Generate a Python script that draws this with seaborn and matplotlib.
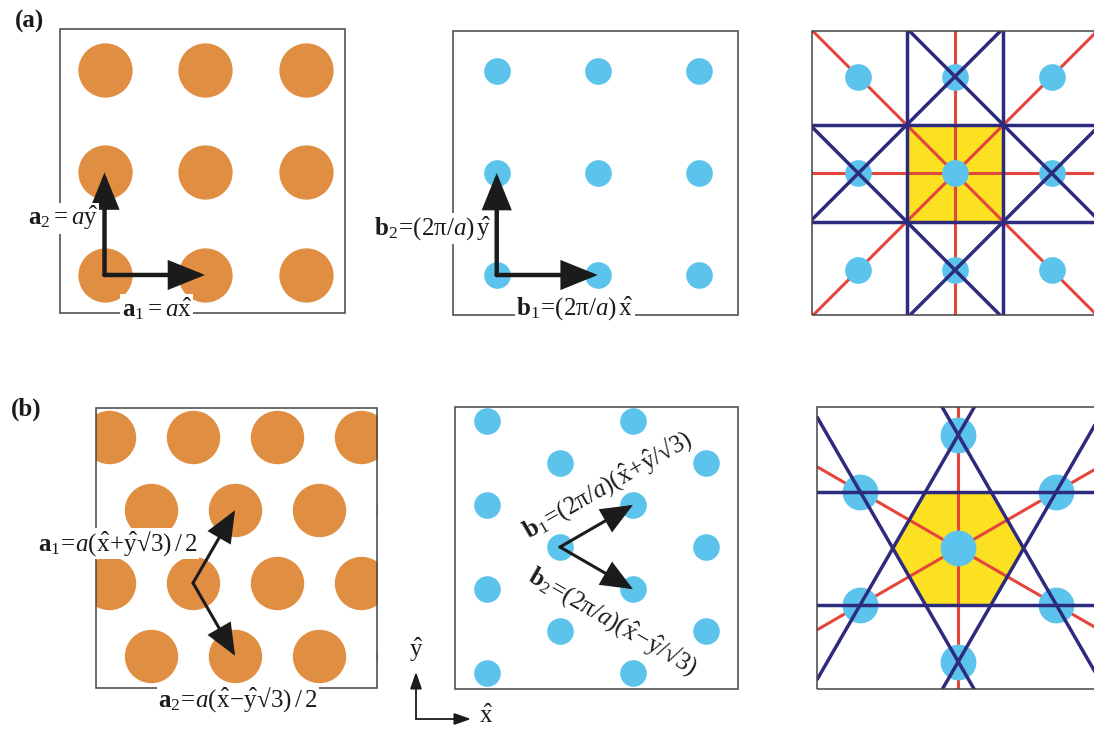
import numpy as np
import pandas as pd
import matplotlib
matplotlib.use("Agg")
import matplotlib.pyplot as plt
import seaborn as sns
from matplotlib.patches import Rectangle, Polygon

sns.set_style("white")
plt.rcParams["font.family"] = ["Liberation Serif", "DejaVu Serif"]
plt.rcParams["mathtext.fontset"] = "custom"
plt.rcParams["mathtext.rm"] = "Liberation Serif"
plt.rcParams["mathtext.it"] = "Liberation Serif:italic"
plt.rcParams["mathtext.bf"] = "Liberation Serif:bold"

# ---------------- lattice data (units of the lattice constant) ----------------
R3 = np.sqrt(3.0)
SQ_A1 = [1.0, 0.0]                 # square lattice, real space
SQ_A2 = [0.0, 1.0]
SQ_B1 = [1.0, 0.0]                 # square lattice, reciprocal (units 2pi/a)
SQ_B2 = [0.0, 1.0]
HEX_A1 = [0.5, R3 / 2]             # hexagonal lattice, real space
HEX_A2 = [0.5, -R3 / 2]
HEX_B1 = [R3 / 2, 0.5]             # hexagonal lattice, reciprocal (units of |b|)
HEX_B2 = [R3 / 2, -0.5]

SQ_INDEX = [0, 1, 2]               # rows/columns drawn in the square panels
SQ_ZONE_INDEX = [-1, 0, 1]         # reciprocal points around the zone
HEX_INDEX = list(range(-4, 5))     # hexagonal panels are clipped by their frame

SQ_NEAR = [(1, 0), (0, 1), (-1, 0), (0, -1)]       # first neighbours (square)
SQ_NEXT = [(1, 1), (-1, 1), (-1, -1), (1, -1)]     # second neighbours (square)
HEX_NEAR_COEF = [(1, 0), (0, 1), (-1, 0), (0, -1), (1, -1), (-1, 1)]  # in b1, b2

# ---------------- colours ----------------
ORANGE = "#E08E42"
CYAN = "#5BC3EC"
NAVY = "#2E2B7E"
RED = "#E5463C"
YELLOW = "#FBE122"
FRAME = "#444444"
INK = "#1b1b1b"

W, H = 1094, 729
fig = plt.figure(figsize=(W / 100, H / 100), dpi=100)


def px_axes(x0, y0, x1, y1, xlim, ylim):
    ax = fig.add_axes([x0 / W, 1 - y1 / H, (x1 - x0) / W, (y1 - y0) / H])
    ax.set_xlim(*xlim)
    ax.set_ylim(*ylim)
    ax.set_axis_off()
    ax.add_patch(Rectangle((0, 0), 1, 1, transform=ax.transAxes, fill=False,
                           ec=FRAME, lw=1.1, clip_on=False, zorder=6))
    return ax


def lattice(v1, v2, idx):
    pts = [(i * v1[0] + j * v2[0], i * v1[1] + j * v2[1]) for i in idx for j in idx]
    return pd.DataFrame(pts, columns=["x", "y"])


def dot_area(ax, r):
    pos = ax.get_position()
    x0, x1 = ax.get_xlim()
    px_per_unit = pos.width * W / (x1 - x0)
    r_pt = r * px_per_unit * 72 / 100
    return (2 * r_pt) ** 2


def draw_dots(ax, df, r, color):
    sns.scatterplot(data=df, x="x", y="y", ax=ax, s=dot_area(ax, r), color=color,
                    linewidth=0, legend=False, zorder=3)
    ax.set_xlabel("")
    ax.set_ylabel("")


def vec_arrow(ax, end, lw, hl, hw, start=(0, 0)):
    ax.annotate("", xy=end, xytext=start,
                arrowprops=dict(arrowstyle=f"-|>,head_length={hl},head_width={hw}",
                                lw=lw, color=INK, shrinkA=0, shrinkB=0,
                                mutation_scale=10, joinstyle="miter"),
                zorder=8)


def label(ax, x, y, s, boxed=True, **kw):
    opts = dict(fontsize=18, zorder=10, clip_on=False, color=INK)
    if boxed:
        opts["bbox"] = dict(fc="white", ec="none", pad=1.0)
    opts.update(kw)
    ax.text(x, y, s, **opts)


# ---------------- (a) square lattice, real space ----------------
ax = px_axes(60, 29.3, 345, 313.3, (-0.443, 2.393), (-0.374, 2.397))
draw_dots(ax, lattice(SQ_A1, SQ_A2, SQ_INDEX), 0.27, ORANGE)
vec_arrow(ax, SQ_A1, 3.2, 2.1, 0.85)
vec_arrow(ax, SQ_A2, 3.2, 2.1, 0.85)
label(ax, -0.065, 0.555, r"$\mathbf{a}_2=a\hat{\mathrm{y}}$", ha="right", va="center")
label(ax, 0.52, -0.33, r"$\mathbf{a}_1=a\hat{\mathrm{x}}$", ha="center", va="center")

# ---------------- (a) square lattice, reciprocal space ----------------
ax = px_axes(452.7, 31, 738.3, 315, (-0.436, 2.392), (-0.392, 2.392))
draw_dots(ax, lattice(SQ_B1, SQ_B2, SQ_INDEX), 0.132, CYAN)
vec_arrow(ax, SQ_B1, 3.2, 2.1, 0.85)
vec_arrow(ax, SQ_B2, 3.2, 2.1, 0.85)
label(ax, -0.05, 0.46, r"$\mathbf{b}_2\!=\!(2\mathrm{\pi}/a)\,\hat{\mathrm{y}}$",
      ha="right", va="center")
label(ax, 0.775, -0.32, r"$\mathbf{b}_1\!=\!(2\mathrm{\pi}/a)\,\hat{\mathrm{x}}$",
      ha="center", va="center")

# ---------------- (a) square lattice, Brillouin-zone construction ----------------
ax = px_axes(811.7, 31, 1100, 315, (-1.482, 1.4995), (-1.465, 1.471))
ax.add_patch(Polygon([(-0.5, -0.5), (0.5, -0.5), (0.5, 0.5), (-0.5, 0.5)],
                     closed=True, fc=YELLOW, ec="none", zorder=1))
for g in SQ_NEAR[:2] + SQ_NEXT[:2]:
    ax.axline((0, 0), g, color=RED, lw=2.2, zorder=2)
draw_dots(ax, lattice(SQ_B1, SQ_B2, SQ_ZONE_INDEX), 0.138, CYAN)
for g in SQ_NEAR + SQ_NEXT:
    mid = (g[0] / 2, g[1] / 2)
    ax.axline(mid, (mid[0] - g[1], mid[1] + g[0]), color=NAVY, lw=2.5, zorder=4)

# ---------------- (b) hexagonal lattice, real space ----------------
ax = px_axes(96, 408, 377, 688, (-1.155, 2.19), (-1.25, 2.083))
draw_dots(ax, lattice(HEX_A1, HEX_A2, HEX_INDEX), 0.318, ORANGE)
vec_arrow(ax, HEX_A1, 2.2, 1.9, 0.8)
vec_arrow(ax, HEX_A2, 2.2, 1.9, 0.8)
label(ax, 0.05, 0.47, "$\\mathbf{a}_1\\!=\\!a(\\hat{\\mathrm{x}}\\!+\\!\\hat{\\mathrm{y}}\u221a3)\\,/\\,2$",
      ha="right", va="center")
label(ax, 0.536, -1.39, "$\\mathbf{a}_2\\!=\\!a(\\hat{\\mathrm{x}}\\!-\\!\\hat{\\mathrm{y}}\u221a3)\\,/\\,2$",
      ha="center", va="center")

# ---------------- (b) hexagonal lattice, reciprocal space ----------------
ax = px_axes(455, 407, 738, 689, (-1.247, 2.114), (-1.686, 1.663))
draw_dots(ax, lattice(HEX_B1, HEX_B2, HEX_INDEX), 0.158, CYAN)
vec_arrow(ax, HEX_B1, 2.2, 1.9, 0.8)
vec_arrow(ax, HEX_B2, 2.2, 1.9, 0.8)
label(ax, 0.56, 0.74, "$\\mathbf{b}_1\\!=\\!(2\\mathrm{\\pi}/a)(\\hat{\\mathrm{x}}\\!+\\!\\hat{\\mathrm{y}}/\u221a3)$",
      boxed=False, ha="center", va="center", rotation=30, rotation_mode="anchor")
label(ax, 0.63, -0.88, "$\\mathbf{b}_2\\!=\\!(2\\mathrm{\\pi}/a)(\\hat{\\mathrm{x}}\\!-\\!\\hat{\\mathrm{y}}/\u221a3)$",
      boxed=False, ha="center", va="center", rotation=-30, rotation_mode="anchor")

# ---------------- (b) hexagonal lattice, Brillouin-zone construction ----------------
ax = px_axes(817.3, 407.3, 1100, 689.3, (-1.244, 1.251), (-1.244, 1.244))
near = [(c1 * HEX_B1[0] + c2 * HEX_B2[0], c1 * HEX_B1[1] + c2 * HEX_B2[1])
        for c1, c2 in HEX_NEAR_COEF]
ang = np.deg2rad(np.arange(0, 360, 60))
rad = 0.5 / np.cos(np.deg2rad(30))
ax.add_patch(Polygon(np.column_stack([rad * np.cos(ang), rad * np.sin(ang)]),
                     closed=True, fc=YELLOW, ec="none", zorder=1))
for g in near[:2] + near[4:5]:
    ax.axline((0, 0), g, color=RED, lw=2.2, zorder=2)
draw_dots(ax, lattice(HEX_B1, HEX_B2, HEX_INDEX), 0.158, CYAN)
for g in near:
    mid = (g[0] / 2, g[1] / 2)
    ax.axline(mid, (mid[0] - g[1], mid[1] + g[0]), color=NAVY, lw=2.5, zorder=4)

# ---------------- panel letters and axis indicator ----------------
ov = fig.add_axes([0, 0, 1, 1], zorder=-1)
ov.set_xlim(0, W)
ov.set_ylim(H, 0)
ov.set_axis_off()
ov.text(30, 21, "(a)", fontsize=18, fontweight="bold", ha="center", va="center", color=INK)
ov.text(26, 409, "(b)", fontsize=18, fontweight="bold", ha="center", va="center", color=INK)
for end in [(416, 672), (471, 719)]:
    ov.annotate("", xy=end, xytext=(416, 719),
                arrowprops=dict(arrowstyle="-|>,head_length=1.0,head_width=0.35",
                                lw=1.3, color=INK, shrinkA=0, shrinkB=0,
                                mutation_scale=10))
ov.text(416, 650, r"$\hat{\mathrm{y}}$", fontsize=18, ha="center", va="center", color=INK)
ov.text(486, 716, r"$\hat{\mathrm{x}}$", fontsize=18, ha="center", va="center", color=INK)

fig.savefig("out.png", dpi=100, facecolor="white")
